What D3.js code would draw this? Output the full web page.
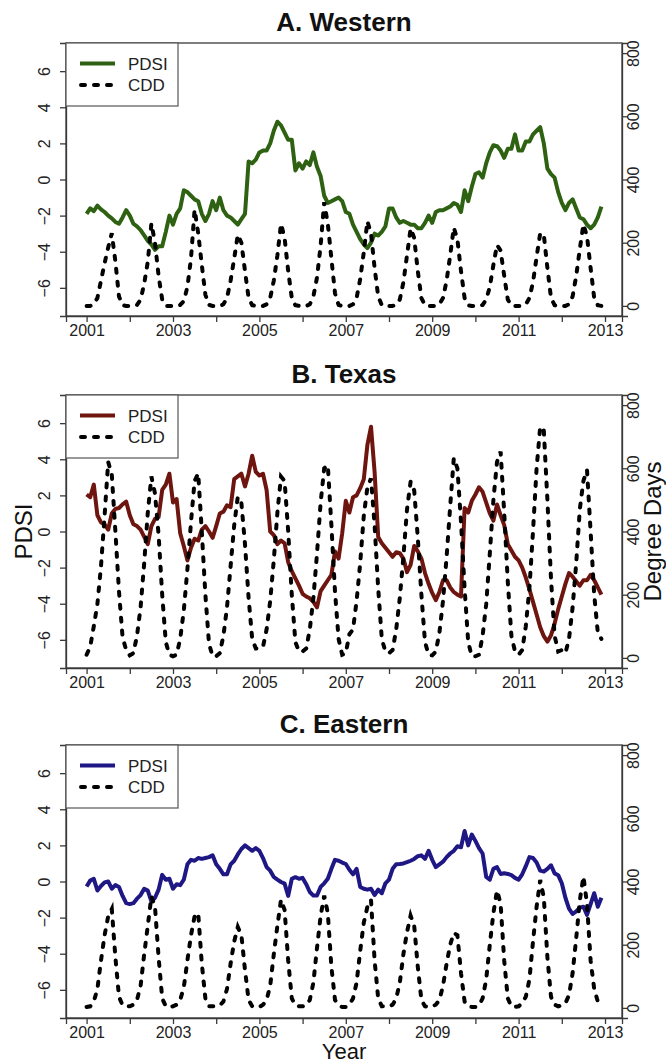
<!DOCTYPE html>
<html><head><meta charset="utf-8">
<script src="https://cdn.jsdelivr.net/npm/d3@7"></script>
<style>
body{margin:0;background:#fff}
svg{display:block}
text{font-family:"Liberation Sans",Arial,Helvetica,sans-serif}
</style>
</head><body>
<svg id="chart" width="666" height="1064"></svg>
<script>
// ---------- data ----------
const panelTitles = ["A. Western", "B. Texas", "C. Eastern"];
const legendLabels = ["PDSI", "CDD"];
const yearTicks = [2001,2002,2003,2004,2005,2006,2007,2008,2009,2010,2011,2012,2013];
const yearLabels = ["2001","","2003","","2005","","2007","","2009","","2011","","2013"];
const pdsiTicks = [-6,-4,-2,0,2,4,6];
const cddTicks = [0,200,400,600,800];

const pdsiWestern = [
 -1.9,-1.6,-1.75,-1.45,-1.65,-1.8,-2.0,-2.15,-2.35,-2.45,-2.1,-1.7,
 -2.0,-2.45,-2.6,-2.8,-3.1,-3.4,-3.6,-3.9,-3.7,-3.7,-2.9,-2.0,
 -2.5,-1.9,-1.6,-0.6,-0.7,-0.9,-1.1,-1.2,-1.9,-2.3,-1.9,-1.2,
 -1.7,-1.0,-1.7,-2.0,-2.1,-2.3,-2.5,-2.2,-1.9,1.0,0.9,1.1,
 1.5,1.6,1.6,2.0,2.7,3.2,3.0,2.6,2.2,2.2,0.5,0.9,
 0.6,1.0,0.8,1.5,0.7,0.2,-0.9,-1.3,-1.2,-1.1,-1.0,-1.2,
 -1.8,-1.9,-2.5,-2.9,-3.3,-3.6,-3.8,-3.5,-3.0,-3.1,-2.9,-2.6,
 -1.6,-1.6,-2.1,-2.4,-2.3,-2.4,-2.5,-2.5,-2.7,-2.7,-2.4,-2.0,
 -2.4,-1.8,-1.7,-1.7,-1.6,-1.5,-1.3,-1.4,-1.8,-0.6,-1.2,-0.4,
 0.3,0.4,0.1,0.9,1.5,1.9,1.85,1.6,1.2,1.7,1.7,2.5,
 1.6,1.6,2.1,2.1,2.5,2.7,2.9,2.0,0.6,0.3,0.1,-0.7,
 -1.3,-1.7,-1.3,-1.1,-1.6,-2.1,-2.2,-2.5,-2.7,-2.5,-2.1,-1.5
];
const pdsiTexas = [
 2.05,1.9,2.6,0.9,0.5,0.4,0.1,1.0,1.25,1.3,1.5,1.65,
 0.9,0.4,0.3,0.1,-0.3,-0.7,0.3,0.7,0.8,2.3,2.6,3.2,
 1.6,1.8,-0.1,-0.8,-1.6,-0.9,-0.4,-0.5,0.1,0.3,0.0,-0.35,
 0.3,1.0,1.1,1.45,1.35,2.9,3.05,3.2,2.5,3.2,4.2,3.3,
 3.1,3.2,2.3,0.0,-0.2,-0.7,-0.5,-0.65,-1.7,-2.2,-2.6,-3.0,
 -3.45,-3.6,-3.7,-3.9,-4.2,-3.3,-3.0,-2.7,-2.4,-1.1,-1.5,-0.1,
 1.7,1.05,1.9,2.0,2.4,2.9,4.8,5.8,3.3,-0.3,-0.65,-0.9,
 -1.15,-1.4,-1.15,-1.2,-1.5,-2.25,-1.85,-0.8,-1.1,-1.5,-2.3,-2.9,
 -3.4,-3.8,-3.35,-2.7,-2.7,-3.1,-3.35,-3.5,-3.6,1.3,1.05,1.7,
 2.05,2.45,2.2,1.6,1.0,0.6,1.5,0.9,0.35,-0.7,-1.05,-1.4,
 -1.6,-2.0,-2.55,-3.2,-3.9,-4.6,-5.3,-5.8,-6.1,-5.75,-5.1,-4.3,
 -3.6,-2.9,-2.3,-2.5,-2.75,-3.0,-2.7,-2.7,-2.4,-2.7,-3.1,-3.5
];
const pdsiEastern = [
 -0.28,0.05,0.15,-0.5,-0.25,-0.05,0.0,-0.4,-0.2,-0.3,-0.8,-1.2,
 -1.25,-1.2,-0.95,-0.75,-0.4,-0.5,-1.1,-0.9,-0.45,0.37,0.1,0.15,
 -0.4,-0.15,-0.2,0.1,0.95,1.2,1.15,1.3,1.25,1.3,1.35,1.45,
 0.95,0.7,0.4,0.4,0.95,1.15,1.5,1.8,2.0,1.85,1.7,1.85,
 1.7,1.3,0.8,0.6,0.25,0.1,-0.03,-0.12,-0.8,0.15,0.24,0.15,
 0.2,-0.15,-0.58,-0.78,-0.78,-0.3,-0.1,0.15,0.7,1.2,1.15,1.05,
 0.97,0.65,0.4,0.7,-0.3,-0.4,-0.45,-0.4,-0.75,-0.45,-0.65,-0.1,
 0.1,0.7,0.95,0.97,1.0,1.07,1.15,1.25,1.4,1.45,1.25,1.7,
 1.2,0.8,0.95,1.1,1.35,1.55,1.7,1.95,1.9,2.8,2.0,2.6,
 2.25,1.85,1.55,0.25,0.1,0.7,0.8,0.42,0.46,0.42,0.35,0.2,
 0.1,0.4,0.85,1.35,1.3,1.05,0.6,0.55,0.7,0.9,0.45,0.35,
 -0.1,-0.9,-1.5,-1.8,-1.65,-1.45,-1.4,-1.85,-1.25,-0.65,-1.4,-0.9
];
const cddWestern = [
 0,0,5,25,80,135,185,230,140,30,2,0,
 0,0,3,20,70,140,261,200,95,20,0,0,
 0,0,3,15,60,150,305,230,130,35,3,0,
 0,0,5,25,80,150,225,200,110,25,2,0,
 0,0,5,25,80,160,260,215,110,25,2,0,
 0,0,5,30,90,190,328,260,150,40,3,0,
 0,0,5,25,85,170,268,230,120,30,2,0,
 0,0,3,20,75,160,245,215,110,25,2,0,
 0,0,5,25,80,160,248,210,110,25,2,0,
 0,0,3,20,60,130,193,175,95,20,1,0,
 0,0,5,25,75,155,230,225,120,25,2,0,
 0,0,5,30,95,180,258,220,120,25,2,0
];
const cddTexas = [
 10,35,100,170,290,450,620,580,400,210,65,25,
 8,15,70,160,300,460,574,520,390,200,50,10,
 5,10,60,150,280,430,560,584,400,200,45,5,
 5,15,70,160,290,420,510,490,360,190,60,30,
 30,35,90,180,310,460,574,560,400,200,50,20,
 20,30,90,190,330,490,600,610,420,210,60,10,
 15,75,90,180,300,450,540,568,420,220,60,20,
 15,25,90,190,320,470,558,530,380,200,50,10,
 8,20,80,180,320,480,632,600,430,220,50,5,
 5,10,70,170,330,500,620,653,460,240,70,20,
 10,25,100,220,400,600,732,720,500,250,70,20,
 25,15,60,160,300,470,560,595,400,200,80,60
];
const cddEastern = [
 3,5,20,60,150,230,290,313,160,35,8,5,
 5,10,25,70,170,260,353,320,160,30,5,3,
 5,10,25,65,150,230,290,300,140,30,5,5,
 5,8,20,60,140,210,256,230,120,25,5,3,
 3,10,25,70,170,260,342,310,150,30,8,5,
 5,8,25,80,190,290,355,300,130,25,8,3,
 3,10,30,80,180,270,320,342,150,30,5,5,
 5,10,30,80,170,240,292,260,130,25,5,3,
 5,10,25,70,140,200,237,230,110,20,5,3,
 3,8,30,90,200,300,372,330,150,30,5,3,
 5,15,35,90,210,320,405,350,160,35,10,5,
 8,15,40,110,220,340,416,330,150,60,20,5
];
const pdsiSeries = [pdsiWestern, pdsiTexas, pdsiEastern];
const cddSeries = [cddWestern, cddTexas, cddEastern];
const pdsiColors = ["#2e6212", "#6e1510", "#1e1784"];

// ---------- layout ----------
const svg = d3.select("#chart");
const panelOffsets = [0, 352, 702];
const L = 66, R = 622, T = 43, B = 316;
const n = pdsiWestern.length;
const t0 = 2001, t1 = 2001 + (n - 1) / 12, ext = 0.04 * (t1 - t0);
const x = d3.scaleLinear().domain([t0 - ext, t1 + ext]).range([L, R]);
const yL = d3.scaleLinear().domain([-7.56, 7.56]).range([B, T]);
const yR = d3.scaleLinear().domain([-32, 832]).range([B, T]);
const axisColor = "#3a3a3a";
const tickText = "#222";

panelTitles.forEach((title, k) => {
  const g = svg.append("g").attr("transform", `translate(0,${panelOffsets[k]})`);
  const pts = d3.range(n).map(i => ({t: t0 + i / 12, p: pdsiSeries[k][i], c: cddSeries[k][i]}));

  // title
  g.append("text").attr("x", (L + R) / 2).attr("y", 31)
    .attr("text-anchor", "middle").attr("font-weight", "bold")
    .attr("font-size", 26).attr("fill", "#111").text(title);

  // PDSI line
  g.append("path").datum(pts)
    .attr("fill", "none").attr("stroke", pdsiColors[k]).attr("stroke-width", 4)
    .attr("stroke-linejoin", "round")
    .attr("d", d3.line().x(d => x(d.t)).y(d => yL(d.p)));

  // CDD dashed line
  g.append("path").datum(pts)
    .attr("fill", "none").attr("stroke", "#000").attr("stroke-width", 4)
    .attr("stroke-linecap", "round").attr("stroke-dasharray", "4,9")
    .attr("d", d3.line().x(d => x(d.t)).y(d => yR(d.c)));

  // axes
  const ax = g.append("g").attr("transform", `translate(0,${B})`)
    .call(d3.axisBottom(x).tickValues(yearTicks).tickSize(6)
      .tickFormat((d, i) => yearLabels[i]));
  const ay = g.append("g").attr("transform", `translate(${L},0)`)
    .call(d3.axisLeft(yL).tickValues(pdsiTicks).tickSize(6).tickFormat(d3.format("d")));
  const ar = g.append("g").attr("transform", `translate(${R},0)`)
    .call(d3.axisRight(yR).tickValues(cddTicks).tickSize(6).tickFormat(d3.format("d")));
  [ax, ay, ar].forEach(a => {
    a.selectAll("path.domain").attr("stroke", axisColor).attr("stroke-width", 1.3);
    a.selectAll(".tick line").attr("stroke", axisColor).attr("stroke-width", 1.3);
    a.selectAll("text").attr("font-size", 16).attr("fill", tickText)
      .attr("font-family", "Liberation Sans, Arial, sans-serif");
  });
  // baseline of year labels ~20px below the box
  ax.selectAll(".tick text").attr("dy", null).attr("y", 20);
  ay.selectAll(".tick text")
    .attr("x", null).attr("dy", null)
    .attr("text-anchor", "middle").attr("dominant-baseline", "central")
    .attr("transform", "rotate(-90)").attr("y", -(L - 44)).attr("x", 0);
  ar.selectAll(".tick text")
    .attr("x", null).attr("dy", null)
    .attr("text-anchor", "middle").attr("dominant-baseline", "central")
    .attr("transform", "rotate(-90)").attr("y", 633 - R).attr("x", 0);

  // plot box
  g.append("rect").attr("x", L).attr("y", T).attr("width", R - L).attr("height", B - T)
    .attr("fill", "none").attr("stroke", axisColor).attr("stroke-width", 1.3);

  // legend
  const lg = g.append("g");
  lg.append("rect").attr("x", L).attr("y", T).attr("width", 112).attr("height", 63)
    .attr("fill", "#fff").attr("stroke", "#555").attr("stroke-width", 1.2);
  lg.append("line").attr("x1", 80).attr("x2", 115).attr("y1", T + 20.5).attr("y2", T + 20.5)
    .attr("stroke", pdsiColors[k]).attr("stroke-width", 4);
  lg.append("line").attr("x1", 81).attr("x2", 116).attr("y1", T + 42).attr("y2", T + 42)
    .attr("stroke", "#000").attr("stroke-width", 4)
    .attr("stroke-linecap", "round").attr("stroke-dasharray", "4,9");
  legendLabels.forEach((lab, j) => {
    lg.append("text").attr("x", 128).attr("y", T + 26.5 + j * 21.5)
      .attr("font-size", 17).attr("fill", "#222").text(lab);
  });
});

// axis titles
const midB = panelOffsets[1] + (T + B) / 2;
svg.append("text").attr("transform", `translate(23,${midB}) rotate(-90)`)
  .attr("text-anchor", "middle").attr("dominant-baseline", "central")
  .attr("font-size", 24).attr("fill", "#111").text("PDSI");
svg.append("text").attr("transform", `translate(652,${midB}) rotate(-90)`)
  .attr("text-anchor", "middle").attr("dominant-baseline", "central")
  .attr("font-size", 24).attr("fill", "#111").text("Degree Days");
svg.append("text").attr("x", (L + R) / 2).attr("y", 1059)
  .attr("text-anchor", "middle").attr("font-size", 22).attr("fill", "#111").text("Year");
</script>
</body></html>
